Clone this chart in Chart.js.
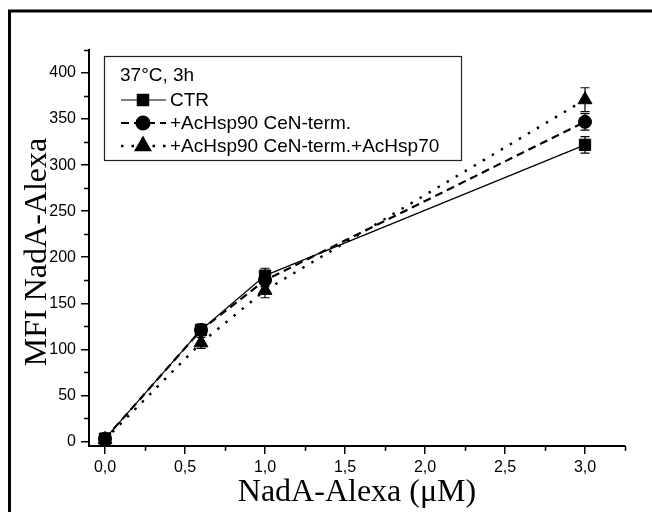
<!DOCTYPE html>
<html>
<head>
<meta charset="utf-8">
<title>MFI NadA-Alexa</title>
<script src="https://cdn.jsdelivr.net/npm/chart.js@4/dist/chart.umd.min.js"></script>
<style>
  body { margin: 0; background: #fff; }
  canvas { display: block; }
</style>
</head>
<body>
<canvas id="myChart" width="652" height="512"></canvas>
<script>
// values
const xValues = [0, 0.6, 1.0, 3.0];
const ctrValues = [3, 121, 180, 322];
const ctrErrors = [2, 6, 8, 9];
const hsp90Values = [3, 121, 175, 347];
const hsp90Errors = [2, 6, 7, 9];
const hsp70Values = [2, 107, 164, 371];
const hsp70Errors = [2, 6, 8, 13];

const seriesLabels = ["CTR", "+AcHsp90 CeN-term.", "+AcHsp90 CeN-term.+AcHsp70"];
const legendTitle = "37°C, 3h";

const xTickValues = [0, 0.5, 1.0, 1.5, 2.0, 2.5, 3.0];
const xTickLabels = ["0,0", "0,5", "1,0", "1,5", "2,0", "2,5", "3,0"];
const yTickValues = [0, 50, 100, 150, 200, 250, 300, 350, 400];
const yTickLabels = ["0", "50", "100", "150", "200", "250", "300", "350", "400"];

const xTitle = "NadA-Alexa (\u03BCM)";
const yTitle = "MFI NadA-Alexa";

function toPoints(vals) {
    return xValues.map((x, i) => ({ x: x, y: vals[i] }));
}

const errorSets = [ctrErrors, hsp90Errors, hsp70Errors];

const framePlugin = {
    id: "frame",
    beforeDraw(chart) {
        const ctx = chart.ctx;
        ctx.save();
        ctx.fillStyle = "#fff";
        ctx.fillRect(0, 0, chart.width, chart.height);
        ctx.strokeStyle = "#000";
        ctx.lineWidth = 3;
        ctx.beginPath();
        ctx.moveTo(9.5, chart.height);
        ctx.lineTo(9.5, 11);
        ctx.lineTo(chart.width, 11);
        ctx.stroke();
        ctx.restore();
    }
};

const minorTicksPlugin = {
    id: "minorTicks",
    afterDraw(chart) {
        const ctx = chart.ctx;
        const xs = chart.scales.x, ys = chart.scales.y;
        const area = chart.chartArea;
        ctx.save();
        ctx.strokeStyle = "#000";
        ctx.lineWidth = 1.5;
        ctx.beginPath();
        for (let v = 0.25; v <= 3.25 + 1e-9; v += 0.5) {
            const px = Math.round(xs.getPixelForValue(v)) + 0.5;
            ctx.moveTo(px, area.bottom);
            ctx.lineTo(px, area.bottom + 5);
        }
        for (let v = 25; v <= 425; v += 50) {
            const py = Math.round(ys.getPixelForValue(v)) + 0.5;
            ctx.moveTo(area.left, py);
            ctx.lineTo(area.left - 5, py);
        }
        ctx.stroke();

        // axis titles
        ctx.fillStyle = "#000";
        ctx.font = "32px 'Liberation Serif', 'Times New Roman', serif";
        ctx.textAlign = "center";
        ctx.textBaseline = "middle";
        ctx.fillText(xTitle, (area.left + area.right) / 2, 493);
        ctx.translate(38, 252);
        ctx.rotate(-Math.PI / 2);
        ctx.fillText(yTitle, 0, 0);
        ctx.restore();
    }
};

const errorBarPlugin = {
    id: "errorBars",
    beforeDatasetsDraw(chart) {
        const ctx = chart.ctx;
        const xs = chart.scales.x, ys = chart.scales.y;
        ctx.save();
        ctx.strokeStyle = "#000";
        ctx.lineWidth = 1.2;
        chart.data.datasets.forEach((ds, di) => {
            const errs = errorSets[di];
            ds.data.forEach((p, i) => {
                const px = xs.getPixelForValue(p.x);
                const top = ys.getPixelForValue(p.y + errs[i]);
                const bot = ys.getPixelForValue(p.y - errs[i]);
                ctx.beginPath();
                ctx.moveTo(px, top);
                ctx.lineTo(px, bot);
                ctx.moveTo(px - 4.5, top);
                ctx.lineTo(px + 4.5, top);
                ctx.moveTo(px - 4.5, bot);
                ctx.lineTo(px + 4.5, bot);
                ctx.stroke();
            });
        });
        ctx.restore();
    }
};

const legendBoxPlugin = {
    id: "legendBox",
    afterDraw(chart) {
        const ctx = chart.ctx;
        ctx.save();
        ctx.strokeStyle = "#222";
        ctx.lineWidth = 1.2;
        ctx.strokeRect(104.5, 56.5, 357, 104);
        ctx.fillStyle = "#000";
        ctx.font = "19px 'Liberation Sans', Arial, sans-serif";
        ctx.textAlign = "left";
        ctx.textBaseline = "middle";
        ctx.fillText(legendTitle, 120, 76);
        const rows = [100, 123, 146];
        chart.data.datasets.forEach((ds, i) => {
            const y = rows[i];
            ctx.save();
            ctx.strokeStyle = "#000";
            ctx.lineWidth = ds.borderWidth;
            ctx.setLineDash(ds.borderDash || []);
            ctx.beginPath();
            ctx.moveTo(121, y);
            ctx.lineTo(166, y);
            ctx.stroke();
            ctx.setLineDash([]);
            ctx.fillStyle = "#000";
            Chart.helpers.drawPoint(ctx, {
                pointStyle: ds.pointStyle,
                radius: ds.pointRadius,
                borderWidth: 1
            }, 143, y);
            ctx.restore();
            ctx.fillText(ds.label, 170, y + 1);
        });
        ctx.restore();
    }
};

const ctx = document.getElementById("myChart");

new Chart(ctx, {
    type: "line",
    data: {
        datasets: [
            {
                label: seriesLabels[0],
                data: toPoints(ctrValues),
                borderColor: "#000",
                backgroundColor: "#000",
                borderWidth: 1.2,
                pointStyle: "rect",
                pointRadius: 8,
                pointBorderWidth: 1
            },
            {
                label: seriesLabels[1],
                data: toPoints(hsp90Values),
                borderColor: "#000",
                backgroundColor: "#000",
                borderWidth: 2.2,
                borderDash: [8, 5],
                pointStyle: "circle",
                pointRadius: 6.5,
                pointBorderWidth: 1
            },
            {
                label: seriesLabels[2],
                data: toPoints(hsp70Values),
                borderColor: "#000",
                backgroundColor: "#000",
                borderWidth: 2.4,
                borderDash: [2.5, 8],
                pointStyle: "triangle",
                pointRadius: 8,
                pointBorderWidth: 1
            }
        ]
    },
    options: {
        responsive: false,
        animation: false,
        layout: { padding: { left: 0, top: 50, right: 27, bottom: 0 } },
        plugins: {
            legend: { display: false },
            tooltip: { enabled: false }
        },
        scales: {
            x: {
                type: "linear",
                min: -0.1,
                max: 3.25,
                afterBuildTicks: s => { s.ticks = xTickValues.map(v => ({ value: v })); },
                afterFit: s => { s.height = 66; },
                grid: { display: true, drawOnChartArea: false, drawTicks: true, tickLength: 8, color: "#000", lineWidth: 1.5 },
                border: { display: true, color: "#000", width: 2 },
                ticks: {
                    callback: (v, i) => xTickLabels[i],
                    color: "#000",
                    padding: 4,
                    maxRotation: 0,
                    autoSkip: false,
                    font: { family: "'Liberation Sans', Arial, sans-serif", size: 16 }
                }
            },
            y: {
                min: -5,
                max: 425,
                afterBuildTicks: s => { s.ticks = yTickValues.map(v => ({ value: v })); },
                afterFit: s => { s.width = 89; },
                grid: { display: true, drawOnChartArea: false, drawTicks: true, tickLength: 8, color: "#000", lineWidth: 1.5 },
                border: { display: true, color: "#000", width: 2 },
                ticks: {
                    callback: (v, i) => yTickLabels[i],
                    color: "#000",
                    padding: 5,
                    autoSkip: false,
                    font: { family: "'Liberation Sans', Arial, sans-serif", size: 16 }
                }
            }
        }
    },
    plugins: [framePlugin, errorBarPlugin, minorTicksPlugin, legendBoxPlugin]
});
</script>
</body>
</html>
